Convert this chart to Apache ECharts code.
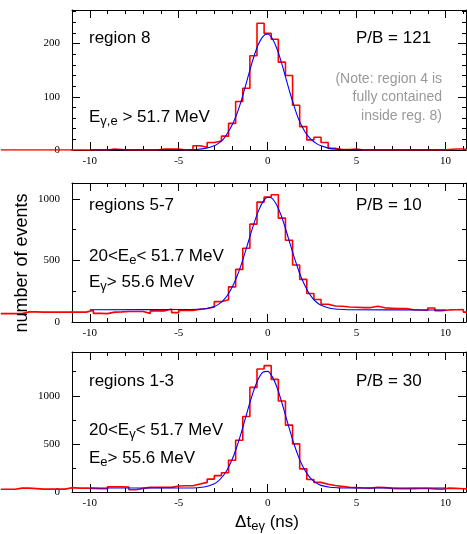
<!DOCTYPE html>
<html>
<head>
<meta charset="utf-8">
<script src="https://cdn.jsdelivr.net/npm/echarts@6/dist/echarts.min.js"></script>
<style>
  html, body { margin: 0; padding: 0; background: #fff; }
  #chart { width: 467px; height: 534px; }
</style>
</head>
<body>
<div id="chart"></div>
<script>
// histogram: bins of 0.4 ns, first left edge at -15.0 ns
const binStart = -15.0;
const binWidth = 0.4;

// region 8
const hist8 = [
  0, 0, 0, 0, 0, 0, 0, 0, 0, 0,
  0, 0, 0, 0, 0, 2, 1, 0, 0, 0,
  0, 0, 2, 2, 2, 0, 1, 8, 5, 14,
  17, 26, 50, 91, 116, 177, 238, 219, 208, 165,
  140, 84, 44, 19, 24, 14, 3, 1, 1, 2,
  0, 0, 0, 0, 0, 0, 0, 0, 0, 0,
  0, 0, 1, 2, 2, 0
];
// regions 5-7
const hist57 = [
  68, 68, 68, 82, 82, 80, 80, 80, 80, 80,
  80, 80, 95, 70, 68, 80, 82, 85, 85, 85,
  70, 90, 90, 106, 76, 93, 93, 103, 109, 122,
  165, 180, 285, 427, 598, 794, 973, 1014, 1033, 843,
  663, 462, 346, 231, 183, 144, 130, 128, 122, 120,
  117, 117, 128, 115, 112, 109, 109, 100, 97, 95,
  114, 92, 98, 100, 101, 80
];
// regions 1-3
const hist13 = [
  28, 28, 40, 40, 35, 30, 30, 30, 30, 45,
  40, 40, 38, 34, 34, 55, 55, 52, 24, 38,
  48, 48, 48, 48, 62, 65, 65, 83, 100, 134,
  170, 200, 330, 538, 785, 1087, 1278, 1313, 1170, 946,
  695, 500, 240, 130, 100, 80, 68, 58, 50, 45,
  42, 40, 50, 45, 38, 33, 33, 35, 36, 36,
  32, 28, 40, 38, 34, 34
];

// fitted curves
const fitX = [-10, -4.5, -4, -3.5, -3, -2.75, -2.5, -2.25, -2, -1.75, -1.5, -1.25, -1, -0.75, -0.5, -0.25,
  0, 0.25, 0.5, 0.75, 1, 1.25, 1.5, 1.75, 2, 2.25, 2.5, 2.75, 3, 3.5, 4, 4.5, 10];
const fit8 = [0.5, 0.5, 1, 3, 8, 13, 20, 32, 47, 66, 91, 120, 150, 178, 200, 214,
  218, 210, 192, 167, 138, 108, 81, 57, 40, 27, 18, 12, 8, 3, 1, 0.5, 0.5];
const fit57 = [100, 101, 103, 108, 126, 145, 175, 219, 281, 361, 460, 573, 693, 809, 908, 979,
  1012, 1003, 952, 868, 759, 640, 522, 414, 324, 252, 198, 160, 136, 111, 103, 100, 97];
const fit13 = [41, 42, 44, 54, 86, 119, 169, 240, 337, 460, 606, 767, 928, 1073, 1185, 1248,
  1254, 1202, 1099, 959, 799, 638, 488, 360, 258, 181, 127, 92, 69, 49, 43, 41, 41];

// ticks
const xMajor = [-10, -5, 0, 5, 10];
const xMinor = [-11, -9, -8, -7, -6, -4, -3, -2, -1, 1, 2, 3, 4, 6, 7, 8, 9, 11];
const yMajor8 = [0, 100, 200];
const yMinor8 = [20, 40, 60, 80, 120, 140, 160, 180, 220, 240, 260];
const yMajor57 = [0, 500, 1000];
const yMinor57 = [250, 750];
const yMajor13 = [0, 500, 1000];
const yMinor13 = [250, 750, 1250];

const panels = [
  { top: 10, height: 140, yMax: 263, hist: hist8, fit: fit8, yMajor: yMajor8, yMinor: yMinor8 },
  { top: 183, height: 139, yMax: 1128, hist: hist57, fit: fit57, yMajor: yMajor57, yMinor: yMinor57 },
  { top: 352, height: 140, yMax: 1455, hist: hist13, fit: fit13, yMajor: yMajor13, yMinor: yMinor13 }
];

const serif = 'Liberation Serif';
const sans = 'Liberation Sans';

function histData(counts) {
  const pts = counts.map((c, i) => [+(binStart + i * binWidth).toFixed(1), c]);
  const last = counts.length;
  pts.push([+(binStart + last * binWidth).toFixed(1), counts[last - 1]]);
  return pts;
}

const grid = [], xAxis = [], yAxis = [], series = [];
const redLine = { color: '#ff0000', width: 1.6 };

panels.forEach((p, i) => {
  grid.push({ left: 72, right: 1, top: p.top, height: p.height });
  const line = { show: true, onZero: false, lineStyle: { color: '#000', width: 1 } };
  const noLine = { show: false, onZero: false };
  const tick = (vals, len) => ({ show: true, inside: true, length: len, customValues: vals, lineStyle: { color: '#000' } });
  const xBase = { type: 'value', gridIndex: i, min: -11, max: 11.15, splitLine: { show: false } };
  xAxis.push(
    Object.assign({}, xBase, {
      position: 'bottom', axisLine: line, axisTick: tick(xMajor, 8),
      axisLabel: { show: true, customValues: xMajor, margin: 6, fontFamily: serif, fontSize: 11, color: '#000',
        formatter: v => String(v) }
    }),
    Object.assign({}, xBase, { position: 'bottom', axisLine: noLine, axisTick: tick(xMinor, 4), axisLabel: { show: false } }),
    Object.assign({}, xBase, { position: 'top', axisLine: line, axisTick: tick(xMajor, 8), axisLabel: { show: false } }),
    Object.assign({}, xBase, { position: 'top', axisLine: noLine, axisTick: tick(xMinor, 4), axisLabel: { show: false } })
  );
  const yBase = { type: 'value', gridIndex: i, min: 0, max: p.yMax, splitLine: { show: false } };
  yAxis.push(
    Object.assign({}, yBase, {
      position: 'left', axisLine: line, axisTick: tick(p.yMajor, 8),
      axisLabel: { show: true, customValues: p.yMajor, margin: 12, fontFamily: serif, fontSize: 11, color: '#000',
        formatter: v => String(v) }
    }),
    Object.assign({}, yBase, { position: 'left', axisLine: noLine, axisTick: tick(p.yMinor, 4), axisLabel: { show: false } }),
    Object.assign({}, yBase, { position: 'right', axisLine: line, axisTick: tick(p.yMajor, 8), axisLabel: { show: false } }),
    Object.assign({}, yBase, { position: 'right', axisLine: noLine, axisTick: tick(p.yMinor, 4), axisLabel: { show: false } })
  );
  series.push({
    type: 'line', xAxisIndex: 4 * i, yAxisIndex: 4 * i,
    data: histData(p.hist), step: 'end', symbol: 'none',
    lineStyle: redLine, z: 2, animation: false
  }, {
    type: 'line', xAxisIndex: 4 * i, yAxisIndex: 4 * i,
    data: fitX.map((x, j) => [x, p.fit[j]]), smooth: 0.3, symbol: 'none',
    lineStyle: { color: '#0000ff', width: 1.1 }, z: 3, animation: false
  });
});

// the histogram runs on into the left margin (-15 .. -11 ns), outside the frame
panels.forEach((p, i) => {
  const g = grid.length;
  grid.push({ left: 0.8, width: 71.2, top: p.top, height: p.height });
  const xi = xAxis.length, yi = yAxis.length;
  xAxis.push({ type: 'value', gridIndex: g, min: -15, max: -11, show: false });
  yAxis.push({ type: 'value', gridIndex: g, min: 0, max: p.yMax, show: false });
  series.push({
    type: 'line', xAxisIndex: xi, yAxisIndex: yi,
    data: histData(p.hist), step: 'end', symbol: 'none',
    lineStyle: redLine, z: 2, animation: false
  });
});

// text helpers
const rich = {
  n: { fontSize: 17, fontFamily: sans, lineHeight: 22, fill: '#000' },
  s: { fontSize: 13, fontFamily: sans, lineHeight: 8, verticalAlign: 'bottom', fill: '#000' }
};
function label(x, y, text, align) {
  return {
    type: 'text', x: x, y: y, z: 10,
    style: { text: text, rich: rich, fill: '#000', align: align || 'left', verticalAlign: 'middle',
      font: '17px ' + sans }
  };
}
function note(y, text) {
  return {
    type: 'text', x: 442, y: y, z: 10,
    style: { text: text, fill: '#999', font: '14px ' + sans, align: 'right', verticalAlign: 'middle' }
  };
}

const graphic = [
  label(89, 38, '{n|region 8}'),
  label(356, 38, '{n|P/B = 121}'),
  label(89, 117, '{n|E}{s|γ,e}{n| > 51.7 MeV}'),
  note(79, '(Note: region 4 is'),
  note(97, 'fully contained'),
  note(116, 'inside reg. 8)'),

  label(89, 205, '{n|regions 5-7}'),
  label(356, 205, '{n|P/B = 10}'),
  label(89, 256, '{n|20<E}{s|e}{n|< 51.7 MeV}'),
  label(89, 282, '{n|E}{s|γ}{n|> 55.6 MeV}'),

  label(89, 381, '{n|regions 1-3}'),
  label(356, 381, '{n|P/B = 30}'),
  label(89, 430, '{n|20<E}{s|γ}{n|< 51.7 MeV}'),
  label(89, 458, '{n|E}{s|e}{n|> 55.6 MeV}'),

  label(267, 522, '{n|Δt}{s|eγ}{n| (ns)}', 'center'),
  {
    type: 'text', x: 22, y: 263, rotation: Math.PI / 2, z: 10,
    style: { text: 'number of events', fill: '#000', font: '18px ' + sans, align: 'center', verticalAlign: 'middle' }
  }
];

const chart = echarts.init(document.getElementById('chart'), null, { renderer: 'canvas' });
chart.setOption({
  animation: false,
  backgroundColor: '#fff',
  grid: grid,
  xAxis: xAxis,
  yAxis: yAxis,
  series: series,
  graphic: graphic
});
</script>
</body>
</html>
